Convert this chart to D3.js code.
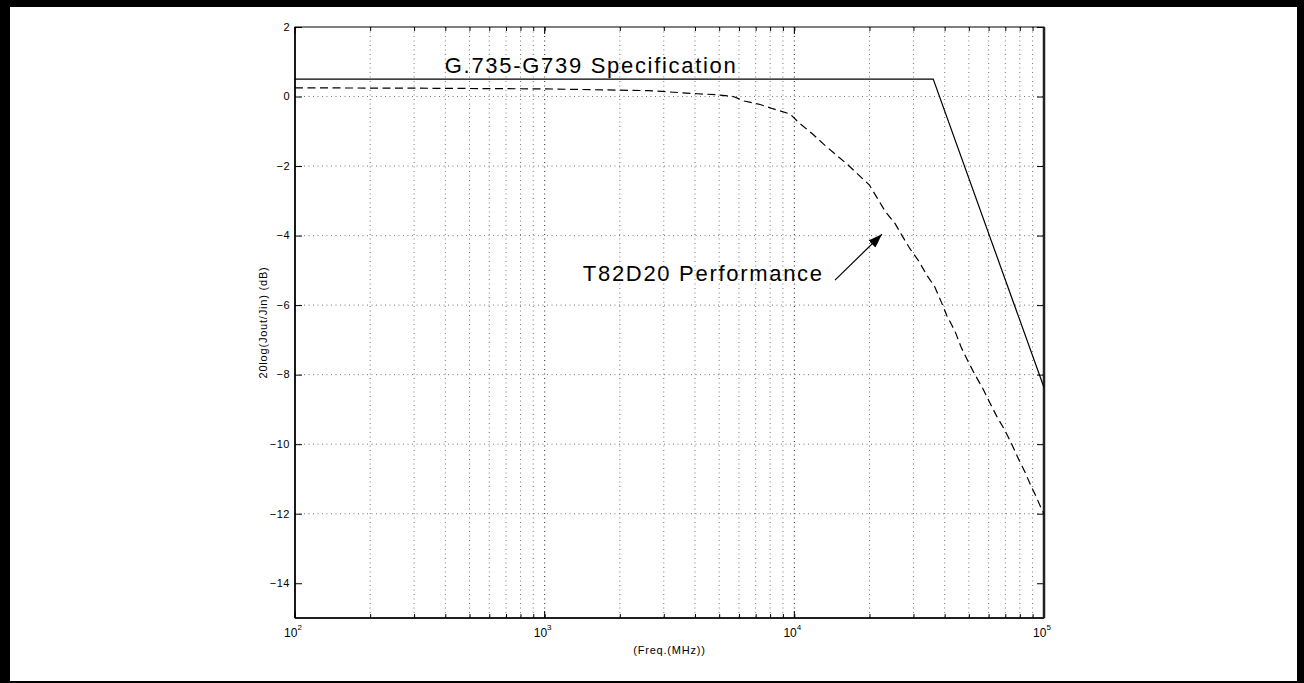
<!DOCTYPE html>
<html>
<head>
<meta charset="utf-8">
<script src="https://cdn.jsdelivr.net/npm/d3@7/dist/d3.min.js"></script>
<style>
  body { margin: 0; background: #fff; }
  svg { display: block; }
  text { font-family: "Liberation Sans", Arial, Helvetica, sans-serif; fill: #000; }
</style>
</head>
<body>
<div id="chart"></div>
<script>
// spec mask (solid line)
const specFreq = [100, 36000, 100000];
const specValue = [0.5, 0.5, -8.37];

// measured T82D20 curve (dashed line)
const perfFreq = [100, 300, 1000, 2600, 4100, 4900, 5700, 6300, 7300, 8200, 9600, 10500, 11800, 13100,
  14600, 16300, 18000, 20000, 21400, 23100, 25300, 27000, 29000, 31600, 34000, 36500, 39000,
  40800, 44000, 46500, 49500, 52900, 56900, 60600, 64700, 69700, 74300, 79300, 83900, 88700,
  92900, 98200, 100000];
const perfValue = [0.25, 0.24, 0.22, 0.17, 0.08, 0.05, 0.0, -0.13, -0.23, -0.35, -0.5, -0.77, -1.07, -1.37,
  -1.66, -1.95, -2.24, -2.55, -2.9, -3.3, -3.65, -4.0, -4.37, -4.75, -5.15, -5.47, -5.95,
  -6.3, -6.75, -7.2, -7.6, -8.0, -8.4, -8.8, -9.2, -9.6, -10.0, -10.45, -10.8, -11.2,
  -11.5, -11.9, -12.0];

const yTicks = [-14, -12, -10, -8, -6, -4, -2, 0, 2];
const xMajor = [100, 1000, 10000, 100000];
const xMajorExp = ["2", "3", "4", "5"];

const labels = [
  { text: "G.735-G739 Specification", f: 398, v: 0.68 },
  { text: "T82D20 Performance", f: 1422, v: -5.31 }
];
const arrowFrom = { f: 14550, v: -5.28 };
const arrowTo = { f: 22440, v: -3.96 };

const W = 1304, H = 683;
const margin = { top: 27, right: 260, bottom: 65, left: 295 };
const width = W - margin.left - margin.right,   // 749
  height = H - margin.top - margin.bottom;        // 591

const svg = d3.select("#chart").append("svg")
  .attr("width", W).attr("height", H);

// outer frame
svg.append("rect").attr("x", 0).attr("y", 0).attr("width", W).attr("height", 7).attr("fill", "#000");
svg.append("rect").attr("x", 0).attr("y", 0).attr("width", 10).attr("height", H).attr("fill", "#000");
svg.append("rect").attr("x", W - 7).attr("y", 0).attr("width", 7).attr("height", H).attr("fill", "#000");
svg.append("rect").attr("x", 0).attr("y", H - 2).attr("width", W).attr("height", 2).attr("fill", "#000");

const g = svg.append("g").attr("transform", `translate(${margin.left},${margin.top})`);

const x = d3.scaleLog().domain([100, 100000]).range([0, width]);
const y = d3.scaleLinear().domain([-15, 2]).range([height, 0]);

// all decade ticks 1..9
const xAll = [];
[100, 1000, 10000].forEach(d => { for (let k = 1; k < 10; k++) xAll.push(d * k); });
xAll.push(100000);

// grid (dotted)
g.append("g").selectAll("line").data(xAll.slice(1, -1)).join("line")
  .attr("x1", d => x(d)).attr("x2", d => x(d)).attr("y1", 0).attr("y2", height)
  .attr("stroke", d => xMajor.includes(d) ? "#222" : "#777")
  .attr("stroke-width", 1).attr("stroke-dasharray", "1,3.5");
g.append("g").selectAll("line").data(yTicks.slice(1, -1)).join("line")
  .attr("x1", 0).attr("x2", width).attr("y1", d => y(d)).attr("y2", d => y(d))
  .attr("stroke", "#777").attr("stroke-width", 1).attr("stroke-dasharray", "1,3.5");

// ticks (inward, MATLAB style) on all sides
const xAxisB = d3.axisBottom(x).tickValues(xAll).tickSize(-4).tickFormat("");
const xAxisT = d3.axisTop(x).tickValues(xAll).tickSize(-4).tickFormat("");
g.append("g").attr("transform", `translate(0,${height})`).call(xAxisB).call(s => s.select(".domain").remove());
g.append("g").call(xAxisT).call(s => s.select(".domain").remove());
// major ticks longer
g.append("g").selectAll("line").data(xMajor).join("line")
  .attr("x1", d => x(d)).attr("x2", d => x(d)).attr("y1", height).attr("y2", height - 7).attr("stroke", "#000");
g.append("g").selectAll("line").data(xMajor).join("line")
  .attr("x1", d => x(d)).attr("x2", d => x(d)).attr("y1", 0).attr("y2", 7).attr("stroke", "#000");

g.append("g").call(d3.axisLeft(y).tickValues(yTicks).tickSize(-7).tickFormat(""))
  .call(s => s.select(".domain").remove());
g.append("g").attr("transform", `translate(${width},0)`)
  .call(d3.axisRight(y).tickValues(yTicks).tickSize(-7).tickFormat(""))
  .call(s => s.select(".domain").remove());

// box
g.append("rect").attr("x", 0).attr("y", 0).attr("width", width).attr("height", height)
  .attr("fill", "none").attr("stroke", "#000").attr("stroke-width", 1);
g.append("line").attr("x1", 0).attr("x2", 0).attr("y1", 0).attr("y2", height).attr("stroke", "#000").attr("stroke-width", 1.6);
g.append("line").attr("x1", 0).attr("x2", width).attr("y1", height).attr("y2", height).attr("stroke", "#000").attr("stroke-width", 1.6);
g.append("line").attr("x1", width).attr("x2", width).attr("y1", 0).attr("y2", height).attr("stroke", "#222").attr("stroke-width", 2.5);

// y tick labels
g.append("g").selectAll("text").data(yTicks).join("text")
  .attr("x", -5).attr("y", d => y(d)).attr("dy", "0.35em")
  .attr("text-anchor", "end").style("font-size", "11px").style("letter-spacing", "0.5px")
  .text(d => d < 0 ? "\u2212" + Math.abs(d) : d);

// x tick labels 10^n
const xl = g.append("g").selectAll("text").data(xMajor).join("text")
  .attr("x", d => x(d) - 2).attr("y", height + 19)
  .attr("text-anchor", "middle").style("font-size", "12px");
xl.append("tspan").text("10");
xl.append("tspan").attr("dy", -7).style("font-size", "8px").text((d, i) => xMajorExp[i]);

// axis titles
g.append("text").attr("text-anchor", "middle")
  .attr("transform", `translate(-28,${height / 2}) rotate(-90)`)
  .style("font-size", "11px").style("letter-spacing", "0.8px").text("20log(Jout/Jin) (dB)");
g.append("text").attr("text-anchor", "middle")
  .attr("x", width / 2).attr("y", height + 36)
  .style("font-size", "11px").style("letter-spacing", "0.8px").text("(Freq.(MHz))");

// lines
const line = d3.line().x(d => x(d[0])).y(d => y(d[1]));
g.append("path").datum(specFreq.map((f, i) => [f, specValue[i]]))
  .attr("fill", "none").attr("stroke", "#000").attr("stroke-width", 1.2).attr("d", line);
g.append("path").datum(perfFreq.map((f, i) => [f, perfValue[i]]))
  .attr("fill", "none").attr("stroke", "#000").attr("stroke-width", 1.2)
  .attr("stroke-dasharray", "8,4.5").attr("d", line);

// annotations
g.selectAll(".ann").data(labels).join("text").attr("class", "ann")
  .attr("x", d => x(d.f)).attr("y", d => y(d.v))
  .style("font-size", "22px").style("letter-spacing", "1.7px")
  .text(d => d.text);

svg.append("defs").append("marker")
  .attr("id", "head").attr("viewBox", "0 0 14 10").attr("refX", 14).attr("refY", 5)
  .attr("markerWidth", 14).attr("markerHeight", 10).attr("markerUnits", "userSpaceOnUse")
  .attr("orient", "auto")
  .append("path").attr("d", "M0,0 L14,5 L0,10 Z").attr("fill", "#000");
g.append("line")
  .attr("x1", x(arrowFrom.f)).attr("y1", y(arrowFrom.v))
  .attr("x2", x(arrowTo.f)).attr("y2", y(arrowTo.v))
  .attr("stroke", "#000").attr("stroke-width", 1.2).attr("marker-end", "url(#head)");
</script>
</body>
</html>
